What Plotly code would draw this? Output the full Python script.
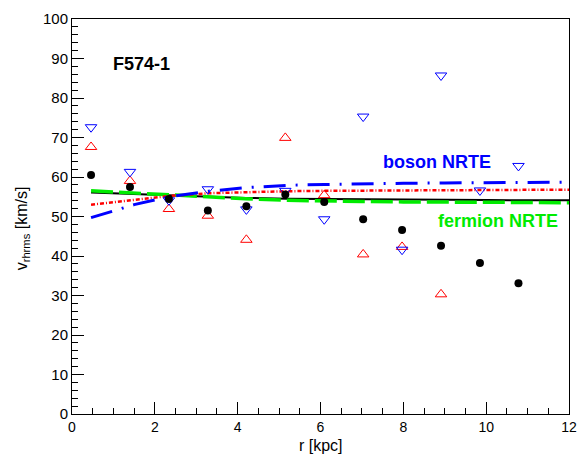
import plotly.graph_objects as go

# Data
r_obs = [0.46, 1.40, 2.34, 3.28, 4.21, 5.15, 6.09, 7.03, 7.97, 8.91, 9.85, 10.78]
v_black = [60.5, 57.5, 54.4, 51.5, 52.6, 55.6, 53.7, 49.3, 46.6, 42.6, 38.2, 33.1]
r_red = [0.46, 1.40, 2.34, 3.28, 4.21, 5.15, 6.09, 7.03, 7.97, 8.91]
v_red = [67.6, 59.0, 51.9, 50.2, 44.1, 69.9, 55.4, 40.4, 42.3, 30.3]
v_blue = [72.6, 61.3, 54.1, 56.9, 51.8, 56.5, 49.3, 75.3, 41.6, 85.7, 56.6, 62.8]

r_model = [0.46, 1.0, 1.5, 2.35, 3.3, 4.2, 5.2, 6.1, 7.0, 8.0, 9.0, 10.0, 11.0, 12.0]
m_black = [56.1, 55.9, 55.7, 55.4, 55.0, 54.7, 54.5, 54.4, 54.3, 54.25, 54.2, 54.15, 54.1, 54.1]
m_green = [56.5, 56.2, 55.9, 55.4, 54.9, 54.5, 54.1, 53.9, 53.8, 53.7, 53.6, 53.55, 53.5, 53.5]
m_red = [53.0, 53.6, 54.2, 55.2, 55.9, 56.2, 56.4, 56.5, 56.55, 56.6, 56.65, 56.7, 56.75, 56.8]
m_blue = [49.7, 51.5, 53.0, 55.0, 56.4, 57.3, 57.9, 58.1, 58.3, 58.4, 58.5, 58.6, 58.65, 58.7]

FONT = "Liberation Sans, Arial, sans-serif"
GREEN = "rgb(0,235,0)"

fig = go.Figure()
fig.add_trace(go.Scatter(x=r_model, y=m_black, mode="lines",
                         line=dict(color="black", width=2), showlegend=False))
fig.add_trace(go.Scatter(x=r_model, y=m_green, mode="lines",
                         line=dict(color=GREEN, width=3.5, dash="22px,6px"), showlegend=False))
fig.add_trace(go.Scatter(x=r_model, y=m_red, mode="lines",
                         line=dict(color="red", width=2.5, dash="4px,2px,1px,2px"), showlegend=False))
fig.add_trace(go.Scatter(x=r_model, y=m_blue, mode="lines",
                         line=dict(color="blue", width=3, dash="22px,10px,2px,10px"), showlegend=False))

fig.add_trace(go.Scatter(x=r_red, y=v_red, mode="markers",
                         marker=dict(symbol="triangle-up-open", size=10, color="red",
                                     line=dict(width=1, color="red")), showlegend=False))
fig.add_trace(go.Scatter(x=r_obs, y=v_blue, mode="markers",
                         marker=dict(symbol="triangle-down-open", size=10, color="blue",
                                     line=dict(width=1, color="blue")), showlegend=False))
fig.add_trace(go.Scatter(x=r_obs, y=v_black, mode="markers",
                         marker=dict(symbol="circle", size=8, color="black"), showlegend=False))

axis_common = dict(showgrid=False, zeroline=False, showline=True, linecolor="black",
                   linewidth=1, mirror=True, ticks="inside", ticklen=12, tickwidth=1,
                   tickcolor="black", tickfont=dict(family=FONT, size=15, color="black"))

fig.update_xaxes(range=[0, 12], tick0=0, dtick=2,
                 minor=dict(ticks="inside", ticklen=6, dtick=0.5, tickcolor="black"),
                 **axis_common)
fig.update_xaxes(tickfont=dict(family=FONT, size=14, color="black"))
fig.update_yaxes(range=[0, 100], tick0=0, dtick=10,
                 minor=dict(ticks="inside", ticklen=6, dtick=2, tickcolor="black"),
                 **axis_common)

fig.update_layout(
    width=587, height=454,
    margin=dict(l=72, r=10, t=13, b=40),
    plot_bgcolor="white", paper_bgcolor="white",
    font=dict(family=FONT, color="black"),
    annotations=[
        dict(text="r [kpc]", xref="paper", yref="paper", x=0.5, y=0,
             yshift=-31, xanchor="center", yanchor="middle", showarrow=False,
             font=dict(family=FONT, size=16, color="black")),
        dict(text="v<sub>rhrms</sub> [km/s]", xref="paper", yref="paper", x=0, y=0.47,
             xshift=-50, xanchor="center", yanchor="middle", textangle=-90, showarrow=False,
             font=dict(family=FONT, size=16, color="black")),
        dict(text="<b>F574-1</b>", xref="x", yref="y", x=1.67, y=88.6,
             xanchor="center", yanchor="middle", showarrow=False,
             font=dict(family=FONT, size=18, color="black")),
        dict(text="<b>boson NRTE</b>", xref="x", yref="y", x=8.81, y=63.8,
             xanchor="center", yanchor="middle", showarrow=False,
             font=dict(family=FONT, size=18, color="blue")),
        dict(text="<b>fermion NRTE</b>", xref="x", yref="y", x=10.28, y=48.8,
             xanchor="center", yanchor="middle", showarrow=False,
             font=dict(family=FONT, size=18, color=GREEN)),
    ],
)

fig.write_html("out.html")
